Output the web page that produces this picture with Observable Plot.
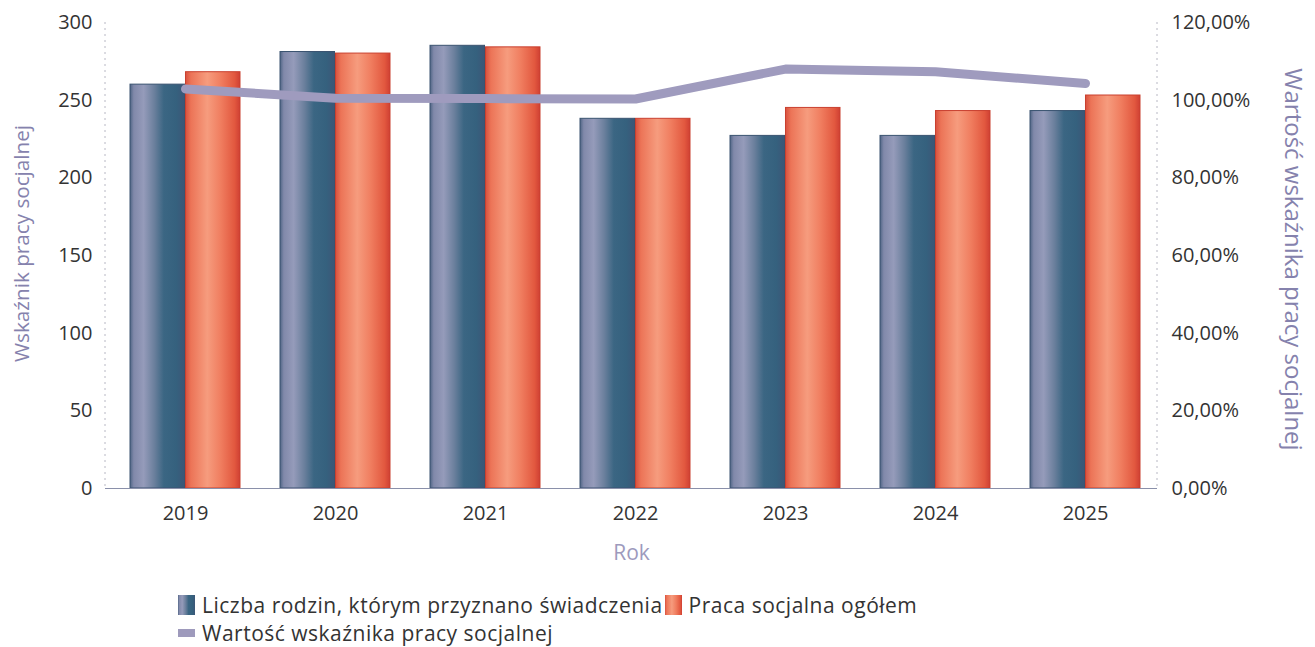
<!DOCTYPE html>
<html><head><meta charset="utf-8">
<script src="https://cdn.jsdelivr.net/npm/d3@7"></script>
<script src="https://cdn.jsdelivr.net/npm/@observablehq/plot@0.6"></script>
<style>
body{margin:0;background:#fff;font-family:"Open Sans",sans-serif;}
#wrap{position:relative;width:1315px;height:647px;}
#legend{position:absolute;left:178px;top:591px;font-size:21px;letter-spacing:0.5px;line-height:28px;color:#333;}
.row{display:flex;align-items:center;height:28px;line-height:28px;white-space:nowrap}
.sw{display:inline-block;width:17px;height:20px;margin-right:7px}
.swl{display:inline-block;width:17px;height:8px;margin-right:7px;background:#9e9abc}
</style></head><body><div id="wrap"><div id="chart"></div><div id="legend"></div></div>
<script>
const years = ["2019","2020","2021","2022","2023","2024","2025"];
const families = [260,281,285,238,227,227,243];
const socialWork = [268,280,284,238,245,243,253];
const indicatorPct = [102.9,100.5,100.4,100.3,108.0,107.3,104.3];
const leftTicks = [0,50,100,150,200,250,300];
const rightTickLabels = ["0,00%","20,00%","40,00%","60,00%","80,00%","100,00%","120,00%"];
const rightMax = 120;
const seriesNames = ["Liczba rodzin, którym przyznano świadczenia","Praca socjalna ogółem","Wartość wskaźnika pracy socjalnej"];
const leftTitle = "Wskaźnik pracy socjalnej";
const rightTitle = "Wartość wskaźnika pracy socjalnej";
const xTitle = "Rok";

const rows = years.map((y,i)=>({year:y, families:families[i], social:socialWork[i], pct:indicatorPct[i]}));
const factor = leftTicks[leftTicks.length-1] / rightMax;

const W = 1315, H = 580, mL = 105, mR = 158, mT = 22, mB = 92;
const pI = 0.265, pO = 0.116, al = 0.6;
const bw = d3.scaleBand().domain(years).range([mL, W-mR]).paddingInner(pI).paddingOuter(pO).align(al).bandwidth();

const frameLines = (index, scales, values, dims) => {
  const g = d3.create("svg:g");
  [dims.marginLeft, dims.width - dims.marginRight].forEach(x => {
    g.append("line").attr("x1", x).attr("x2", x).attr("y1", dims.marginTop).attr("y2", dims.height - dims.marginBottom)
      .attr("stroke", "#b8b8c4").attr("stroke-width", 1).attr("stroke-dasharray", "2,4");
  });
  return g.node();
};

const chart = Plot.plot({
  width: W, height: H,
  marginLeft: mL, marginRight: mR, marginTop: mT, marginBottom: mB,
  style: {fontFamily: "Open Sans", fontSize: "20px", color: "#333", background: "#fff"},
  x: {type: "band", domain: years, paddingInner: pI, paddingOuter: pO, align: al, axis: null},
  y: {domain: [0, 300], axis: null},
  marks: [
    frameLines,
    Plot.barY(rows, {x: "year", y: "families", fill: "url(#gBlue)", stroke: "#3a5370", strokeWidth: 1, insetRight: bw/2}),
    Plot.barY(rows, {x: "year", y: "social", fill: "url(#gOrange)", stroke: "#c9402f", strokeWidth: 1, insetLeft: bw/2}),
    Plot.ruleY([0], {stroke: "#8a90aa", strokeWidth: 1.2}),
    Plot.line(rows, {x: "year", y: d => d.pct * factor, stroke: "#9f9bbe", strokeWidth: 9, strokeLinejoin: "miter"}),
    Plot.axisX({tickSize: 0, tickPadding: 17, label: null}),
    Plot.axisY({anchor: "left", ticks: leftTicks, tickSize: 0, tickPadding: 13, label: null}),
    Plot.axisY({anchor: "right", ticks: leftTicks, tickSize: 0, tickPadding: 14, label: null,
      tickFormat: d => rightTickLabels[leftTicks.indexOf(d)]}),
    Plot.text([xTitle], {frameAnchor: "bottom", dy: 71, fill: "#9d9abd", fontSize: 21}),
    Plot.text([leftTitle], {frameAnchor: "left", textAnchor: "middle", rotate: -90, dx: -83, dy: -12, fill: "#8582ad", fontSize: 20.7}),
    Plot.text([rightTitle], {frameAnchor: "right", textAnchor: "middle", rotate: 90, dx: 135, dy: 4, fill: "#8582ad", fontSize: 24})
  ]
});
document.getElementById("chart").appendChild(chart);

const svg = d3.select(chart.tagName.toLowerCase() === "svg" ? chart : chart.querySelector("svg"));
const defs = svg.insert("defs", ":first-child");
function grad(id, stops){
  const g = defs.append("linearGradient").attr("id", id).attr("x1","0").attr("x2","1").attr("y1","0").attr("y2","0");
  stops.forEach(([o,c]) => g.append("stop").attr("offset", o).attr("stop-color", c));
}
const blueStops = [[0,"#4f6585"],[0.07,"#8189aa"],[0.25,"#959bba"],[0.45,"#6a7f9c"],[0.62,"#3b6683"],[0.85,"#35617e"],[1,"#3c5677"]];
const orangeStops = [[0,"#d8503e"],[0.1,"#ec7457"],[0.4,"#f69c7e"],[0.65,"#f07d5f"],[0.9,"#e2583f"],[1,"#cf3f33"]];
grad("gBlue", blueStops);
grad("gOrange", orangeStops);

const css = s => "linear-gradient(to right," + s.map(([o,c]) => c + " " + (o*100) + "%").join(",") + ")";
const legend = document.getElementById("legend");
legend.innerHTML =
  `<div class="row"><span class="sw" style="background:${css(blueStops)}"></span><span>${seriesNames[0]}</span>` +
  `<span class="sw" style="background:${css(orangeStops)};margin-left:2px"></span><span>${seriesNames[1]}</span></div>` +
  `<div class="row"><span class="swl"></span><span>${seriesNames[2]}</span></div>`;
</script></body></html>
